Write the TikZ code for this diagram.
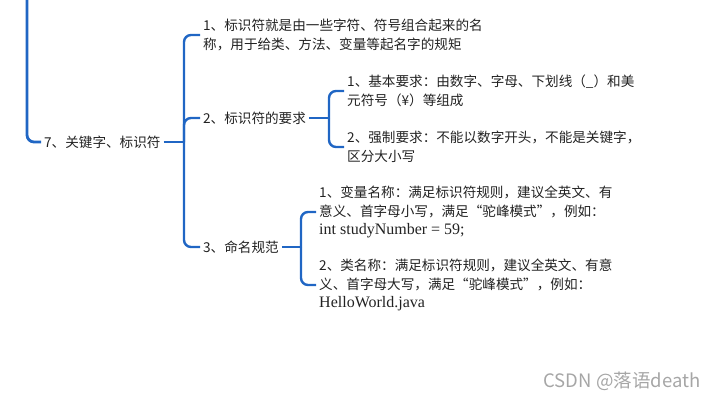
\documentclass[tikz,border=0pt]{standalone}
\usepackage{fontspec}
\setmainfont{Noto Sans CJK SC}
\newfontfamily\codefont{Liberation Serif}
\definecolor{linkblue}{RGB}{32,102,196}
\definecolor{txt}{RGB}{34,34,34}
\begin{document}
\begin{tikzpicture}[x=1pt,y=-1pt,
  topic/.style={anchor=west, inner xsep=3pt, inner ysep=0pt, text=txt,
    font=\fontsize{13.6}{18.5}\selectfont, align=left},
  link/.style={draw=linkblue, line width=2.4pt, rounded corners=7pt},
  code/.style={font=\codefont\fontsize{16}{18}\selectfont}]
\useasboundingbox (0,0) rectangle (718,400);
% nodes
\node[topic] (root) at (41,142) {7、关键字、标识符};
\node[topic] (c1) at (200,35) {1、标识符就是由一些字符、符号组合起来的名\\称，用于给类、方法、变量等起名字的规矩};
\node[topic] (c2) at (200,118) {2、标识符的要求};
\node[topic] (c3) at (200,247) {3、命名规范};
\node[topic] (c21) at (344,91) {1、基本要求：由数字、字母、下划线（\_）和美\\元符号（¥）等组成};
\node[topic] (c22) at (344,147) {2、强制要求：不能以数字开头，不能是关键字，\\区分大小写};
\node[topic] (c31) at (316,212) {1、变量名称：满足标识符规则，建议全英文、有\\意义、首字母小写，满足“驼峰模式”，例如：\\{\codefont\fontsize{16}{18}\selectfont int studyNumber = 59;}};
\node[topic] (c32) at (316,285) {2、类名称：满足标识符规则，建议全英文、有意\\义、首字母大写，满足“驼峰模式”，例如：\\{\codefont\fontsize{16}{18}\selectfont HelloWorld.java}};
\node[text=black!35, font=\fontsize{18.5}{20}\selectfont] (wm) at (622,381) {CSDN @落语death};
% junctions
\coordinate (top) at (27,0);
\coordinate (j1) at (184,142);
\coordinate (j2) at (329,118);
\coordinate (j3) at (301,247);
% connectors
\draw[link, line width=2.8pt] (top) |- (root.west);
\draw[link] (root.east) -- (j1);
\draw[link] (j1) |- (c1.west);
\draw[link] (j1) |- (c2.west);
\draw[link] (j1) |- (c3.west);
\draw[link] (c2.east) -- (j2);
\draw[link] (j2) |- (c21.west);
\draw[link] (j2) |- (c22.west);
\draw[link] (c3.east) -- (j3);
\draw[link] (j3) |- (c31.west);
\draw[link] (j3) |- (c32.west);
\end{tikzpicture}
\end{document}
